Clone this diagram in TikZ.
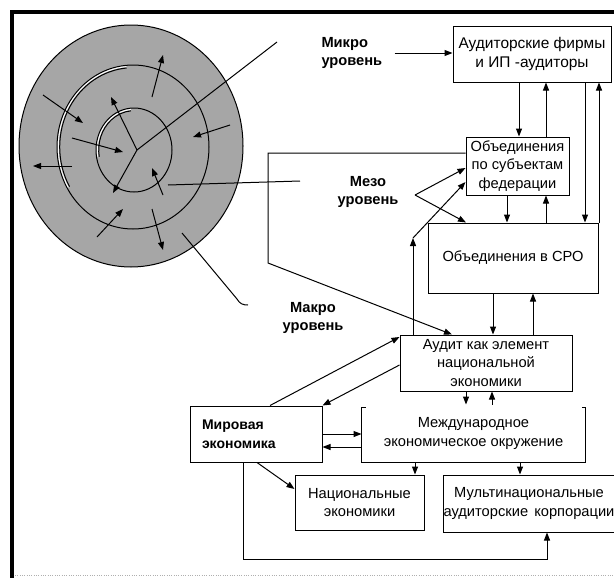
\documentclass[tikz,border=0pt]{standalone}
\usepackage{fontspec}
\setmainfont{Liberation Sans}
\usetikzlibrary{arrows.meta,calc}

\definecolor{ringgray}{RGB}{166,166,166}
\definecolor{rulegray}{RGB}{175,175,175}

\tikzset{every picture/.style={line width=0.75pt}}
\tikzset{
  blok/.style={draw, inner sep=0pt, align=center, font=\fontsize{11}{13.9}\selectfont},
  sz/.style 2 args={minimum width=#1*0.75pt, minimum height=#2*0.75pt},
  lvl/.style={font=\fontsize{11}{14.2}\selectfont\bfseries, align=center, inner sep=0pt},
  arr/.style={-{Triangle[length=6pt,width=4.5pt]}},
}

\begin{document}
\begin{tikzpicture}[x=0.75pt,y=0.75pt,yscale=-1,xscale=1]
\useasboundingbox (0,0) rectangle (614,578);

%Frame
\draw [line width=3pt] (12,578) -- (12,12) -- (614,12) ;
\draw [rulegray, densely dotted] (15,575) -- (614,575) ;

%Shape: Circles
\draw [fill=ringgray] (131,146) ellipse [x radius=112, y radius=121] ;
\draw [fill=ringgray] (133,147) ellipse [x radius=76, y radius=82] ;
\draw [white] (133,147) ++(150:74.7 and 80.7) arc [start angle=150, end angle=265, x radius=74.7, y radius=80.7] ;
\draw (133,147) ++(150:73.3 and 79.3) arc [start angle=150, end angle=265, x radius=73.3, y radius=79.3] ;
\draw [fill=ringgray] (134,150) ellipse [x radius=38, y radius=42] ;
\draw [white] (134,150) ++(170:36.7 and 40.7) arc [start angle=170, end angle=265, x radius=36.7, y radius=40.7] ;
\draw (134,150) ++(170:35.3 and 39.3) arc [start angle=170, end angle=265, x radius=35.3, y radius=39.3] ;

%Straight Lines
\draw [arr] (43,95) -- (83,123) ;
\draw [arr] (72,138) -- (123,152) ;
\draw [arr] (72,166) -- (33,166) ;
\draw [arr] (152,97) -- (163,55) ;
\draw [arr] (230,125) -- (193,137) ;
\draw [arr] (163,195) -- (152,168) ;
\draw [arr] (97,237) -- (123,209) ;
\draw [arr] (152,209) -- (163,250) ;
\draw [arr] (137,150) -- (111,97) ;
\draw [arr] (137,150) -- (113,193) ;
\draw (137,150) -- (277,42) ;
\draw (168,185) -- (300,181) ;
\draw (182,233) -- (237,299) .. controls (240,304) and (243,305) .. (248,305) ;

% Text Node
\node [lvl, anchor=west, align=left] (mikro) at (321,53) {Микро\\уровень};
\node [lvl] (mezo) at (368,192) {Мезо\\уровень};
\node [lvl] (makro) at (313,318) {Макро\\уровень};

%Shape: Rectangle
\node [blok, sz={158}{56}, font=\fontsize{11.6}{13.6}\selectfont] (firms) at (532,54) {Аудиторские фирмы\\и ИП -аудиторы};
\node [blok, sz={103}{58}] (subj) at (517.5,166) {Объединения\\по субъектам\\федерации};
\node [blok, sz={170}{70}] (sro) at (513,258) {Объединения в СРО};
\node [blok, sz={172}{56}] (audit) at (486,363) {Аудит как элемент\\национальной\\экономики};
\node [blok, sz={132}{56}, align=left, text width=108*0.75pt, font=\fontsize{10.5}{14.2}\selectfont\bfseries] (mirov) at (256,434) {Мировая\\экономика};
\node [blok, draw=none, sz={223}{57}] (mezh) at (473.5,433.5) {Международное\\экономическое окружение};
\node [blok, sz={129}{55}] (natec) at (359.5,502.5) {Национальные\\экономики};
\node [blok, sz={172}{57}] (multi) at (529,503.5) {Мультинациональные\\аудиторские\hspace{0.42em}корпорации};

%open top of the environment box
\draw ($(mezh.north west)+(4,3)$) -- ($(mezh.north west)+(0,3)$) -- (mezh.south west) -- (mezh.south east) -- ($(mezh.north east)+(0,3)$) -- ($(mezh.north east)+(-4,3)$) ;

%Straight Lines
\draw [arr] ([xshift=9pt]mikro.east) -- (firms.west |- 0,53) ;
\draw [arr] (firms.south -| 519,0) -- (subj.north -| 519,0) ;
\draw [arr] (subj.north -| 546,0) -- (firms.south -| 546,0) ;
\draw [arr] (firms.south -| 585,0) -- (sro.north -| 585,0) ;
\draw [arr] (sro.north -| 599,0) -- (firms.south -| 599,0) ;
\draw [arr] (subj.south -| 507,0) -- (sro.north -| 507,0) ;
\draw [arr] (sro.north -| 546,0) -- (subj.south -| 546,0) ;

\draw [arr] (subj.west |- 0,153) -| (268,263) -- (audit.north -| 452,0) ;

\coordinate (mezofork) at (415,195) ;
\draw [arr] (mezofork) -- (subj.west |- 0,168) ;
\draw [arr] (mezofork) -- (sro.north -| 466,0) ;

\coordinate (bend) at (413,238) ;
\draw [arr] (audit.north -| bend) -- (bend) ;
\draw [arr] (bend) -- (subj.west |- 0,182) ;

\draw [arr] (sro.south -| 493,0) -- (audit.north -| 493,0) ;
\draw [arr] (audit.north -| 533,0) -- (sro.south -| 533,0) ;

\draw [arr] (mirov.north -| 270,0) -- (audit.west |- 0,337) ;
\draw [arr] (audit.west |- 0,365) -- (mirov.north east) ;

\draw [arr] (audit.south -| 466,0) -- (mezh.north -| 466,0) ;
\draw [arr] (mezh.north -| 492,0) -- (audit.south -| 492,0) ;

\draw [arr] (mirov.east |- 0,434) -- (mezh.west |- 0,434) ;
\draw [arr] (mezh.west |- 0,447) -- (mirov.east |- 0,447) ;

\draw [arr] (mezh.south -| 415,0) -- (natec.north -| 415,0) ;
\draw [arr] (mezh.south -| 520,0) -- (multi.north -| 520,0) ;

\draw [arr] (mirov.south -| 257,0) -- (natec.west |- 0,489) ;
\draw [arr] (mirov.south -| 243,0) |- (547,559) -- (multi.south -| 547,0) ;

\end{tikzpicture}
\end{document}
